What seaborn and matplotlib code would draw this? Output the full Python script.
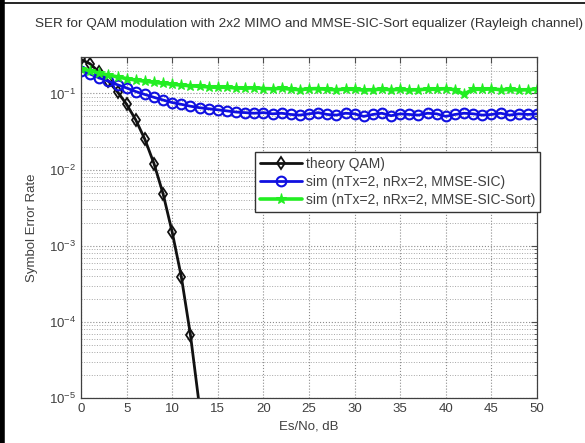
import numpy as np
import pandas as pd
import matplotlib
matplotlib.use('Agg')
import matplotlib.pyplot as plt
from matplotlib.lines import Line2D
from matplotlib.ticker import LogLocator, NullFormatter
import seaborn as sns

# data
snr_theory = [0, 1, 2, 3, 4, 5, 6, 7, 8, 9, 10, 11, 12, 13, 14]
ser_theory = [0.28, 0.245, 0.19, 0.145, 0.105, 0.072, 0.045, 0.025, 0.012,
              0.0048, 0.0015, 3.9e-4, 6.7e-5, 7.5e-6, 5e-7]

snr_sim = list(range(0, 51))
ser_mmse_sic = [0.20, 0.18, 0.16, 0.145, 0.13, 0.118, 0.106, 0.097, 0.089, 0.082,
                0.076, 0.072, 0.068, 0.065, 0.063, 0.061, 0.059, 0.057, 0.056, 0.055,
                0.056, 0.054, 0.055, 0.053, 0.052, 0.054, 0.056, 0.053, 0.052, 0.055,
                0.054, 0.050, 0.053, 0.055, 0.051, 0.054, 0.053, 0.052, 0.055, 0.054,
                0.050, 0.053, 0.055, 0.054, 0.052, 0.053, 0.055, 0.052, 0.054, 0.053,
                0.054]
ser_mmse_sic_sort = [0.21, 0.20, 0.185, 0.175, 0.165, 0.157, 0.15, 0.145, 0.14, 0.136,
                     0.132, 0.129, 0.126, 0.124, 0.122, 0.12, 0.121, 0.118, 0.117, 0.119,
                     0.116, 0.115, 0.117, 0.114, 0.112, 0.115, 0.116, 0.113, 0.112, 0.114,
                     0.113, 0.111, 0.112, 0.114, 0.112, 0.113, 0.111, 0.112, 0.114, 0.113,
                     0.116, 0.112, 0.098, 0.114, 0.113, 0.115, 0.112, 0.113, 0.111, 0.112,
                     0.114]

labels = ['theory QAM)', 'sim (nTx=2, nRx=2, MMSE-SIC)', 'sim (nTx=2, nRx=2, MMSE-SIC-Sort)']

sns.set_style('white')
plt.rcParams['font.family'] = ['Liberation Sans', 'DejaVu Sans']

fig = plt.figure(figsize=(5.85, 4.43), dpi=100)
ax = fig.add_axes([0.1385, 0.1016, 0.7795, 0.7694])

sns.lineplot(x=snr_theory, y=ser_theory, ax=ax, color='#111111', marker='d',
             markersize=6.5, markerfacecolor='none', markeredgecolor='#111111',
             markeredgewidth=1.3, linewidth=2.0, label=labels[0])
sns.lineplot(x=snr_sim, y=ser_mmse_sic, ax=ax, color='#1010e0', marker='o',
             markersize=7, markerfacecolor='none', markeredgecolor='#1010e0',
             markeredgewidth=1.5, linewidth=2.0, label=labels[1])
sns.lineplot(x=snr_sim, y=ser_mmse_sic_sort, ax=ax, color='#22ee22', marker='*',
             markersize=8, markerfacecolor='#22ee22', markeredgecolor='#22ee22',
             linewidth=2.6, label=labels[2])

ax.set_yscale('log')
ax.set_xlim(0, 50)
ax.set_ylim(1e-5, 0.3)
ax.set_xticks(range(0, 51, 5))
ax.yaxis.set_major_locator(LogLocator(base=10, numticks=10))
ax.yaxis.set_minor_locator(LogLocator(base=10, subs=np.arange(2, 10), numticks=20))
ax.yaxis.set_minor_formatter(NullFormatter())

ax.grid(True, which='major', linestyle=':', color='0.55', linewidth=0.8)
ax.grid(True, which='minor', axis='y', linestyle=':', color='0.65', linewidth=0.7)
ax.tick_params(which='both', direction='in', top=True, right=True, labelsize=9.5,
               color='0.3', labelcolor='0.25')
ax.tick_params(which='major', length=4)
ax.tick_params(which='minor', length=2)
for s in ax.spines.values():
    s.set_color('0.25')
    s.set_linewidth(0.9)

ax.set_xlabel('Es/No, dB', fontsize=9.5, labelpad=4, color='0.25')
ax.set_ylabel('Symbol Error Rate', fontsize=9.5, labelpad=8, color='0.25')
ax.set_title('SER for QAM modulation with 2x2 MIMO and MMSE-SIC-Sort equalizer (Rayleigh channel)',
             fontsize=9.7, pad=22, color='0.2')

leg = ax.legend(loc='upper left', bbox_to_anchor=(0.436, 0.657),
                bbox_transform=fig.transFigure, borderaxespad=0, fontsize=10,
                handlelength=3.0, fancybox=False, framealpha=1,
                edgecolor='0.2', borderpad=0.35, labelspacing=0.3,
                handletextpad=0.3)
leg.get_frame().set_linewidth(1.0)
for t in leg.get_texts():
    t.set_color('0.25')

# frame around the picture
fig.add_artist(Line2D([0.004, 0.004], [0, 1], transform=fig.transFigure,
                      color='black', linewidth=4))
fig.add_artist(Line2D([0, 1], [0.994, 0.994], transform=fig.transFigure,
                      color='black', linewidth=1.2))

fig.savefig('out.png', dpi=100)
